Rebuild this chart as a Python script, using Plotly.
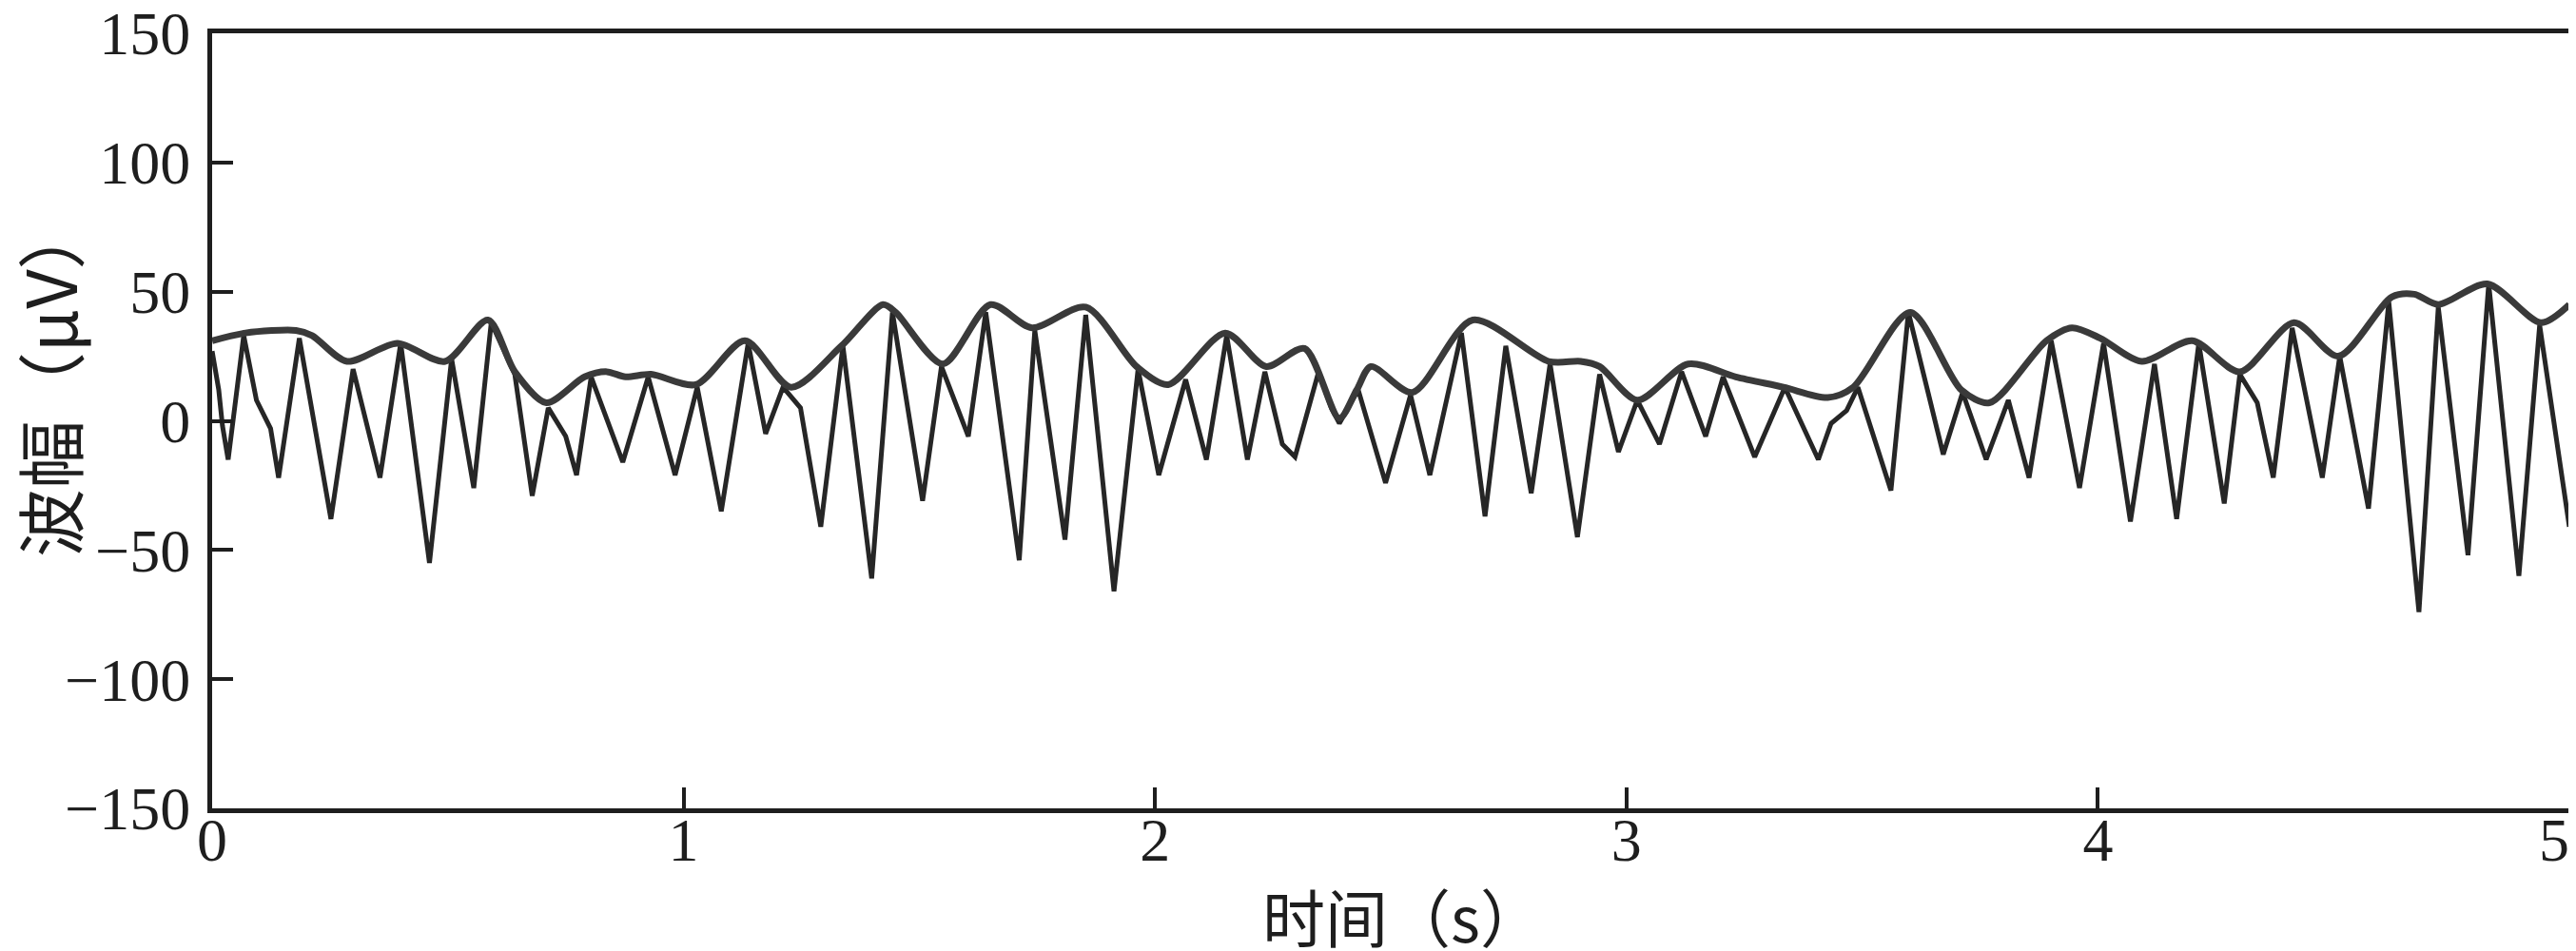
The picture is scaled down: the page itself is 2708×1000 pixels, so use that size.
import plotly.graph_objects as go

# EEG signal (extrema and shoulders)
sig_t = [0.000, 0.014, 0.022, 0.034, 0.067, 0.094, 0.124, 0.141, 0.185, 0.252, 0.299, 0.356,
         0.400, 0.461, 0.508, 0.555, 0.592, 0.642, 0.679, 0.713, 0.750, 0.773, 0.804, 0.871,
         0.925, 0.982, 1.029, 1.080, 1.137, 1.174, 1.211, 1.248, 1.291, 1.338, 1.399, 1.443,
         1.507, 1.547, 1.604, 1.641, 1.712, 1.745, 1.809, 1.853, 1.913, 1.964, 2.008, 2.065,
         2.109, 2.152, 2.196, 2.233, 2.270, 2.297, 2.347, 2.374, 2.391, 2.431, 2.489, 2.542,
         2.583, 2.650, 2.700, 2.744, 2.798, 2.838, 2.896, 2.943, 2.983, 3.023, 3.070, 3.117,
         3.168, 3.205, 3.272, 3.336, 3.407, 3.434, 3.467, 3.491, 3.561, 3.598, 3.672, 3.713,
         3.763, 3.810, 3.854, 3.901, 3.961, 4.012, 4.069, 4.120, 4.167, 4.214, 4.268, 4.301,
         4.338, 4.372, 4.412, 4.476, 4.513, 4.574, 4.617, 4.681, 4.722, 4.785, 4.829, 4.893,
         4.937, 5.000]
sig_v = [27, 12, -2, -15, 33, 8, -3, -22, 32, -38, 20, -22,
         30, -55, 24, -26, 38, 18, -29, 5, -6, -21, 17, -16,
         17, -21, 13, -35, 30, -5, 13, 5, -41, 29, -61, 42,
         -31, 21, -6, 42, -54, 35, -46, 41, -66, 20, -21, 16,
         -15, 33, -15, 19, -9, -14, 19, 5, -1, 12, -24, 10,
         -21, 34, -37, 29, -28, 22, -45, 18, -12, 8, -9, 19,
         -6, 17, -14, 13, -15, -1, 4, 13, -27, 42, -13, 11,
         -15, 8, -22, 31, -26, 30, -39, 22, -38, 30, -32, 18,
         7, -22, 36, -22, 25, -34, 46, -74, 44, -52, 53, -60,
         37, -41]

# Envelope
env_t = [0.000, 0.071, 0.178, 0.212, 0.286, 0.393, 0.494, 0.585, 0.642, 0.709, 0.790, 0.837,
         0.877, 0.931, 1.026, 1.130, 1.228, 1.335, 1.423, 1.450, 1.550, 1.651, 1.739, 1.853,
         1.961, 2.028, 2.149, 2.236, 2.317, 2.391, 2.428, 2.458, 2.546, 2.674, 2.835, 2.903,
         2.943, 3.023, 3.131, 3.232, 3.333, 3.427, 3.481, 3.602, 3.710, 3.770, 3.891, 3.945,
         4.005, 4.093, 4.200, 4.301, 4.416, 4.510, 4.624, 4.671, 4.722, 4.826, 4.940, 5.000]
env_v = [31, 34, 35, 33, 23, 30, 23, 39, 19, 7, 17, 19,
         17, 18, 14, 31, 13, 29, 45, 42, 22, 45, 36, 44,
         21, 14, 34, 21, 28, 1, 12, 21, 11, 39, 23, 23,
         21, 8, 22, 17, 13, 9, 13, 42, 12, 7, 31, 36,
         32, 23, 31, 19, 38, 25, 48, 49, 45, 53, 38, 45]

x_ticks = [0, 1, 2, 3, 4, 5]
x_ticklabels = ["0", "1", "2", "3", "4", "5\u2002"]
y_ticks = [-150, -100, -50, 0, 50, 100, 150]
y_ticklabels = ["−150", "−100", "−50", "0", "50", "100", "150"]
x_title = "时间（s）"
y_title = "波幅（μV）"

fig = go.Figure()
fig.add_trace(go.Scatter(x=sig_t, y=sig_v, mode="lines",
                         line=dict(color="#262626", width=5), showlegend=False))
fig.add_trace(go.Scatter(x=env_t, y=env_v, mode="lines",
                         line=dict(color="#3a3a3a", width=7, shape="spline", smoothing=0.8),
                         showlegend=False))

axis_common = dict(showline=True, mirror=True, linecolor="#1e1e1e", linewidth=5,
                   ticks="inside", ticklen=22, tickwidth=4, tickcolor="#1e1e1e",
                   showgrid=False, zeroline=False, ticklabeloverflow="allow",
                   tickfont=dict(family="Liberation Serif", size=64, color="#1e1e1e"))

fig.update_xaxes(range=[0, 5], tickvals=x_ticks, ticktext=x_ticklabels,
                 ticklabelstandoff=-27, **axis_common)
fig.update_yaxes(range=[-150, 150], tickvals=y_ticks, ticktext=y_ticklabels,
                 ticklabelstandoff=5, **axis_common)

fig.add_annotation(text=y_title, xref="paper", yref="paper",
                   x=-(215 - 41) / 2478, y=(842 - 391) / 815, xanchor="center", yanchor="middle",
                   textangle=-90, showarrow=False,
                   font=dict(family="Noto Sans CJK SC", size=72, color="#1e1e1e"))
fig.add_annotation(text=x_title, xref="paper", yref="paper",
                   x=(1466 - 215) / 2478, y=-(954 - 842) / 815, xanchor="center", yanchor="middle",
                   showarrow=False,
                   font=dict(family="Noto Sans CJK SC", size=66, color="#1e1e1e"))

fig.update_layout(width=2708, height=1000,
                  margin=dict(l=215, r=15, t=27, b=158, autoexpand=False),
                  paper_bgcolor="white", plot_bgcolor="white")

fig.write_html("out.html")
